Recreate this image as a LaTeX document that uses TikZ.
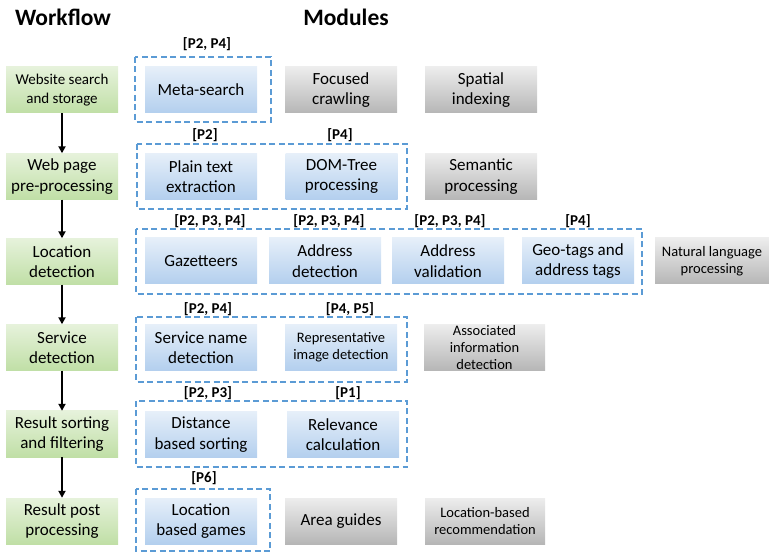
\documentclass[tikz,border=0pt]{standalone}
\usepackage{fontspec}
\setmainfont{Carlito}
\usetikzlibrary{arrows.meta}
\definecolor{flowtop}{HTML}{E6F2DB}
\definecolor{flowbot}{HTML}{C0DFA6}
\definecolor{modtop}{HTML}{E6EFF9}
\definecolor{modbot}{HTML}{B3CFEE}
\definecolor{greytop}{HTML}{EDEDED}
\definecolor{greybot}{HTML}{B6B6B6}
\definecolor{dashblue}{HTML}{5B9BD5}
\tikzset{
  box/.style={rectangle, inner sep=0pt, align=center,
    minimum width=112pt, minimum height=46pt,
    font=\fontsize{17}{20.5}\selectfont},
  flowbox/.style={box, top color=flowtop, bottom color=flowbot},
  modbox/.style={box, top color=modtop, bottom color=modbot},
  greybox/.style={box, top color=greytop, bottom color=greybot},
  smalltext/.style={font=\fontsize{14.5}{17}\selectfont},
  group/.style={draw=dashblue, line width=2.2pt, dash pattern=on 6pt off 3.5pt},
  ref/.style={font=\bfseries\fontsize{15}{17}\selectfont, inner sep=0pt},
  heading/.style={font=\bfseries\fontsize{23.5}{26}\selectfont, inner sep=0pt},
  flowarrow/.style={line width=1.8pt, -{Triangle[length=7pt,width=7pt]}}
}
\begin{document}
\begin{tikzpicture}[x=1pt,y=-1pt]
\useasboundingbox (0,0) rectangle (769,553);

% headings
\node[heading] (hwf) at (63,17) {Workflow};
\node[heading] (hmod) at (346,17) {Modules};

% workflow column
\node[flowbox, font=\fontsize{15}{19}\selectfont] (w1) at (62,90) {Website search\\and storage};
\node[flowbox] (w2) at (62,176.5) {Web page\\pre-processing};
\node[flowbox] (w3) at (62,261.5) {Location\\detection};
\node[flowbox] (w4) at (62,347.5) {Service\\detection};
\node[flowbox] (w5) at (62,434) {Result sorting\\and filtering};
\node[flowbox] (w6) at (62,521) {Result post\\processing};

\draw[flowarrow] (w1) -- (w2);
\draw[flowarrow] (w2) -- (w3);
\draw[flowarrow] (w3) -- (w4);
\draw[flowarrow] (w4) -- (w5);
\draw[flowarrow] (w5) -- (w6);

% dashed groups of covered modules
\draw[group] (135,57) rectangle (271,122);
\draw[group] (137,144) rectangle (407,209);
\draw[group] (136,229) rectangle (642,294);
\draw[group] (136,317) rectangle (407,382);
\draw[group] (136,401) rectangle (407,467);
\draw[group] (136,489) rectangle (270,551);

% row 1
\node[modbox] (m11) at (201,90) {Meta-search};
\node[greybox] (m12) at (341,90) {Focused\\crawling};
\node[greybox] (m13) at (481,90) {Spatial\\indexing};
\node[ref] (r11) at (207,44) {[P2, P4]};

% row 2
\node[modbox] (m21) at (201,176.5) {Plain text\\extraction};
\node[modbox] (m22) at (341.5,176.5) {DOM-Tree\\processing};
\node[greybox] (m23) at (481,176.5) {Semantic\\processing};
\node[ref] (r21) at (205,135) {[P2]};
\node[ref] (r22) at (340,135) {[P4]};

% row 3
\node[modbox] (m31) at (201,261) {Gazetteers};
\node[modbox] (m32) at (325,261) {Address\\detection};
\node[modbox] (m33) at (448,261) {Address\\validation};
\node[modbox] (m34) at (578,261) {Geo-tags and\\address tags};
\node[greybox, smalltext, minimum width=114pt] (m35) at (712,261) {Natural language\\processing};
\node[ref] (r31) at (210,221) {[P2, P3, P4]};
\node[ref] (r32) at (329,221) {[P2, P3, P4]};
\node[ref] (r33) at (450,221) {[P2, P3, P4]};
\node[ref] (r34) at (578,221) {[P4]};

% row 4
\node[modbox] (m41) at (201,347.5) {Service name\\detection};
\node[modbox, smalltext] (m42) at (341,347.5) {Representative\\image detection};
\node[greybox, smalltext, minimum width=121pt] (m43) at (484.5,347.5) {Associated\\information\\detection};
\node[ref] (r41) at (208,309) {[P2, P4]};
\node[ref] (r42) at (350,309) {[P4, P5]};

% row 5
\node[modbox] (m51) at (201,434.5) {Distance\\based sorting};
\node[modbox] (m52) at (343,434.5) {Relevance\\calculation};
\node[ref] (r51) at (208,393) {[P2, P3]};
\node[ref] (r52) at (348,393) {[P1]};

% row 6
\node[modbox] (m61) at (201,521) {Location\\based games};
\node[greybox] (m62) at (341,521) {Area guides};
\node[greybox, smalltext, minimum width=120pt] (m63) at (485,521) {Location-based\\recommendation};
\node[ref] (r61) at (204,478) {[P6]};
\end{tikzpicture}
\end{document}
